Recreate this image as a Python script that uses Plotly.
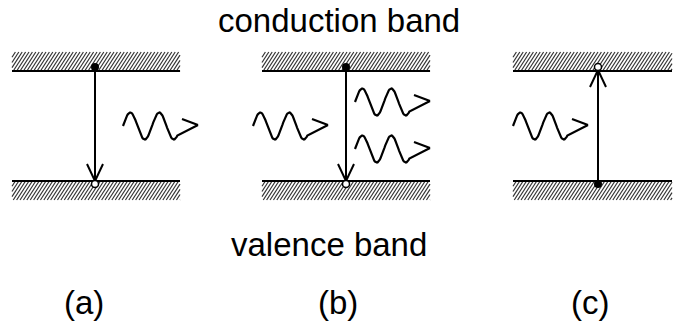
import numpy as np
import plotly.graph_objects as go

# Canvas (pixel-like coordinates, y grows downward)
W, H = 673, 329

# Panel geometry
panel_labels = ["(a)", "(b)", "(c)"]
label_x = [84, 338, 590]
band_left = [12, 262, 513]
band_right = [180, 430, 672]
transition_x = [95, 346, 598]
# direction of the electron transition: -1 = down (emission), +1 = up (absorption)
transition_dir = [-1, -1, 1]

# Band levels
upper_band = (52, 71)    # hatch top, edge line
lower_band = (181, 200)  # edge line, hatch bottom

# Photons: (panel index, start x, centre y)
photons = [
    (0, 123, 126),
    (1, 253, 126),
    (1, 355, 102),
    (1, 355, 149),
    (2, 513, 126),
]

INK = "black"
fig = go.Figure()


def hatch(x0, x1, ytop, ybot, step=3.4, k=0.65):
    """Diagonal '/' hatch lines clipped to a rectangle."""
    h = ybot - ytop
    xs, ys = [], []
    c = x0 - h * k
    while c < x1:
        t0 = max(0.0, (x0 - c) / (h * k))
        t1 = min(1.0, (x1 - c) / (h * k))
        if t0 < t1:
            xs += [c + t0 * h * k, c + t1 * h * k, None]
            ys += [ybot - t0 * h, ybot - t1 * h, None]
        c += step
    return xs, ys


hx, hy = [], []
ex, ey = [], []
for xl, xr in zip(band_left, band_right):
    a, b = hatch(xl, xr, upper_band[0], upper_band[1])
    hx += a; hy += b
    a, b = hatch(xl, xr, lower_band[0], lower_band[1])
    hx += a; hy += b
    ex += [xl, xr, None, xl, xr, None]
    ey += [upper_band[1], upper_band[1], None, lower_band[0], lower_band[0], None]

fig.add_trace(go.Scatter(x=hx, y=hy, mode="lines",
                         line=dict(color="#333", width=1.2), hoverinfo="skip"))
fig.add_trace(go.Scatter(x=ex, y=ey, mode="lines",
                         line=dict(color=INK, width=1.8), hoverinfo="skip"))

# Transition arrows
y_top, y_bot = 67, 184
ax, ay = [], []
filled_x, filled_y, open_x, open_y = [], [], [], []
for x, d in zip(transition_x, transition_dir):
    ax += [x, x, None]
    ay += [y_top, y_bot, None]
    if d < 0:
        tip = y_bot - 3
        ax += [x - 8, x, x + 8, None]
        ay += [tip - 17, tip, tip - 17, None]
        filled_x.append(x); filled_y.append(y_top)
        open_x.append(x); open_y.append(y_bot)
    else:
        tip = y_top + 3
        ax += [x - 8, x, x + 8, None]
        ay += [tip + 17, tip, tip + 17, None]
        filled_x.append(x); filled_y.append(y_bot)
        open_x.append(x); open_y.append(y_top)

fig.add_trace(go.Scatter(x=ax, y=ay, mode="lines",
                         line=dict(color=INK, width=2), hoverinfo="skip"))

# Photon wiggles with arrow heads
P, A = 29.0, 13.5
wx, wy = [], []
for _, x0, c in photons:
    xs = np.linspace(x0, x0 + 1.75 * P + P / 8, 80)
    ys = c - A * np.sin(2 * np.pi * (xs - x0) / P)
    tipx, tipy = x0 + 75, c - 1
    wx += list(xs) + [tipx, None, tipx - 16, tipx, None]
    wy += list(ys) + [tipy, None, tipy - 6, tipy, None]

fig.add_trace(go.Scatter(x=wx, y=wy, mode="lines",
                         line=dict(color=INK, width=2.2, shape="linear"),
                         hoverinfo="skip"))

# Electron (filled) and hole (open) markers
fig.add_trace(go.Scatter(x=filled_x, y=filled_y, mode="markers",
                         marker=dict(size=8, color=INK), hoverinfo="skip"))
fig.add_trace(go.Scatter(x=open_x, y=open_y, mode="markers",
                         marker=dict(size=7, color="white",
                                     line=dict(color=INK, width=1.5)),
                         hoverinfo="skip"))

# Text
font = dict(family="Liberation Sans, Arial, sans-serif", size=33, color=INK)
texts = [("conduction band", 339, 20), ("valence band", 329, 244)]
texts += [(lab, lx, 302) for lab, lx in zip(panel_labels, label_x)]
for t, x, y in texts:
    fig.add_annotation(x=x, y=y, text=t, showarrow=False, font=font,
                       xref="x", yref="y", xanchor="center", yanchor="middle")

fig.update_layout(
    width=W, height=H, autosize=False,
    margin=dict(l=0, r=0, t=0, b=0),
    paper_bgcolor="white", plot_bgcolor="white",
    showlegend=False,
    xaxis=dict(range=[0, W], visible=False, fixedrange=True),
    yaxis=dict(range=[H, 0], visible=False, fixedrange=True),
)

fig.write_html("out.html")
